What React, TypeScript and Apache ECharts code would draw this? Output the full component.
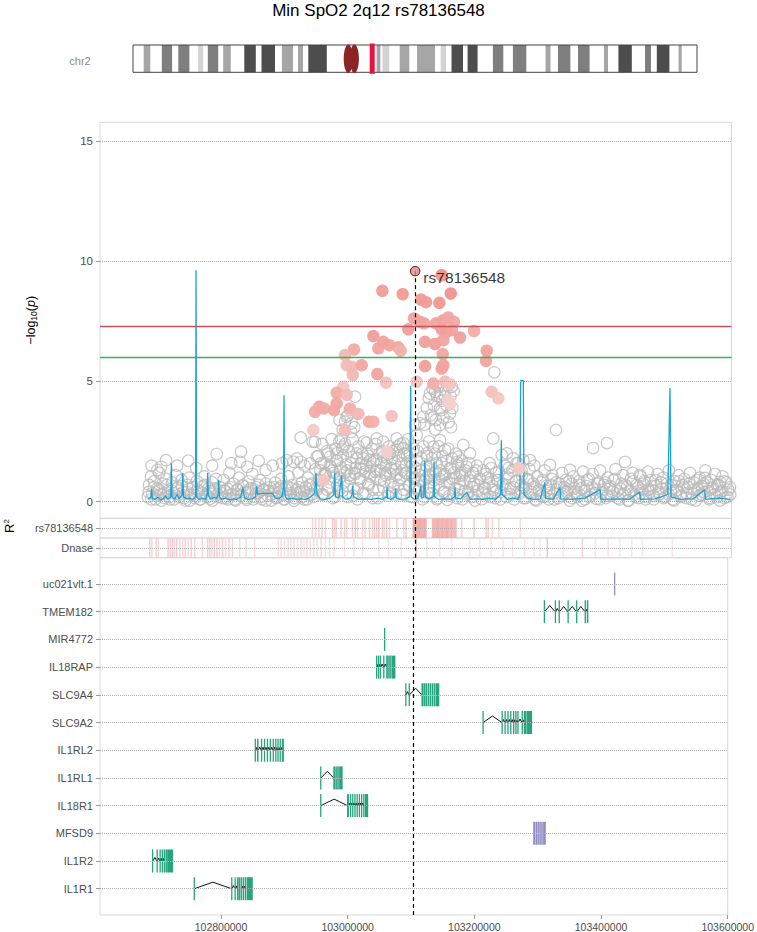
import React, { useEffect, useRef } from "react";
import * as echarts from "echarts";

// ---------------- data ----------------
const TITLE = "Min SpO2 2q12 rs78136548";
const CHROM_LABEL = "chr2";
const LEAD_SNP = "rs78136548";
const LEAD_POS_KB = 103103.5;
const LEAD_LOGP = 9.59;
const X_MIN_KB = 102609;
const X_MAX_KB = 103600;
const X_TICKS_KB = [102800, 103000, 103200, 103400, 103600];
const Y_MIN = -0.69;
const Y_MAX = 15.78;
const Y_TICKS = [0, 5, 10, 15];
const GENOME_WIDE = 7.3;
const SUGGESTIVE = 6;
const TRACK_LD = "rs78136548";
const TRACK_DNASE = "Dnase";
// bottom to top
const GENE_NAMES = ["IL1R1", "IL1R2", "MFSD9", "IL18R1", "IL1RL1", "IL1RL2", "SLC9A2", "SLC9A4", "IL18RAP", "MIR4772", "TMEM182", "uc021vlt.1"];

// chromosome 2 cytobands (Mb) : [start, end, stain]
const CHR_LEN_MB = 243.2;
const CYTOBANDS: [number, number, string][] = [
  [4.61, 7.46, "gpos50"], [12.42, 16.86, "gpos75"], [19.53, 24.32, "gpos75"], [28.11, 30.27, "gpos25"],
  [32.25, 36.74, "gpos75"], [38.9, 42.17, "gpos50"], [47.99, 52.95, "gpos100"], [55.41, 61.23, "gpos100"],
  [64.21, 68.99, "gpos50"], [71.15, 73.31, "gpos50"], [75.59, 83.57, "gpos100"],
  [105.04, 106.68, "gpos50"], [107.54, 110.52, "gpos25"], [115.0, 119.14, "gpos50"], [122.46, 130.22, "gpos50"],
  [132.68, 134.97, "gpos25"], [137.34, 142.3, "gpos100"], [144.28, 148.59, "gpos100"], [155.19, 159.67, "gpos75"],
  [163.82, 169.6, "gpos75"], [177.88, 180.03, "gpos50"], [183.26, 188.6, "gpos75"], [191.89, 196.89, "gpos75"],
  [203.1, 204.83, "gpos50"], [209.31, 215.09, "gpos100"], [220.78, 223.37, "gpos75"], [225.87, 231.3, "gpos100"],
  [235.27, 236.6, "gpos50"],
];
const CENTROMERE_MB: [number, number, number] = [90.98, 94.13, 97.28];
const LOCUS_MB: [number, number] = [102.07, 104.22];

// SNPs with no LD information: [position kb, -log10 p]
const grayBand: [number, number][] = [
  [102684,0.2],[102686,0.7],[102689,1.05],[102691,0.35],[102694,0.85],[102696,0.1],[102699,0.55],[102702,1.2],[102704,0.3],[102707,0.75],
  [102710,0.15],[102713,0.95],[102716,0.45],[102719,0.1],[102722,0.8],[102725,0.35],[102728,1.1],[102731,0.6],[102734,0.2],[102737,0.9],
  [102740,0.4],[102743,0.05],[102746,0.7],[102749,1.0],[102752,0.3],[102755,0.6],[102758,0.15],[102761,0.85],[102764,0.45],[102767,0.1],
  [102770,0.65],[102773,1.05],[102776,0.3],[102779,0.55],[102782,0.12],[102785,0.8],[102788,0.4],[102791,0.95],[102794,0.2],[102797,0.6],
  [102800,0.35],[102803,0.9],[102806,0.15],[102809,0.55],[102812,1.2],[102815,0.3],[102818,0.75],[102821,0.1],[102824,0.5],[102827,1.0],
  [102830,0.25],[102833,0.7],[102836,0.4],[102839,0.08],[102842,0.85],[102845,0.5],[102848,1.15],[102851,0.2],[102854,0.6],[102857,0.35],
  [102860,0.9],[102863,0.1],[102866,0.5],[102869,0.75],[102872,0.25],[102875,0.6],[102878,0.05],[102881,0.45],[102884,0.8],[102887,0.2],
  [102890,0.55],[102893,0.95],[102896,0.3],[102899,0.1],[102902,0.65],[102905,1.05],[102908,0.35],[102911,0.7],[102914,0.15],[102917,0.5],
  [102920,1.2],[102923,0.4],[102926,0.8],[102929,0.1],[102932,0.6],[102935,1.0],[102938,0.3],[102941,0.75],[102944,0.2],[102947,1.35],
  [102950,0.5],[102953,0.9],[102956,1.6],[102959,0.3],[102962,1.2],[102965,2.1],[102968,0.6],[102971,1.45],[102974,0.15],[102977,1.0],
  [102980,1.7],[102983,0.45],[102986,1.3],[102989,2.2],[102992,0.8],[102995,1.55],[102998,0.2],[103001,1.1],[103004,1.85],[103007,0.55],
  [103010,1.4],[103013,0.1],[103016,0.95],[103019,1.6],[103022,0.35],[103025,1.25],[103028,2.0],[103031,0.7],[103034,1.45],[103037,0.15],
  [103040,1.05],[103043,1.75],[103046,0.5],[103049,1.3],[103052,2.1],[103055,0.85],[103058,1.5],[103061,0.25],[103064,1.15],[103067,1.8],
  [103070,0.6],[103073,1.35],[103076,2.3],[103079,0.9],[103082,1.6],[103085,0.3],[103088,1.2],[103091,1.9],[103094,0.7],[103097,1.45],
  [103100,0.2],[103103,1.0],[103106,1.7],[103109,0.45],[103112,1.3],[103115,0.1],[103118,0.9],[103121,1.5],[103124,0.35],[103127,1.1],
  [103130,1.8],[103133,0.6],[103136,1.25],[103139,0.15],[103142,0.95],[103145,1.6],[103148,0.4],[103151,1.15],[103154,0.08],[103157,0.8],
  [103160,1.4],[103163,0.3],[103166,1.0],[103169,1.65],[103172,0.5],[103175,1.2],[103178,0.1],[103181,0.85],[103184,1.45],[103187,0.35],
  [103190,1.05],[103193,0.2],[103196,0.75],[103199,1.3],[103202,0.45],[103205,0.95],[103208,0.1],[103211,0.6],[103214,1.15],[103217,0.3],
  [103220,0.8],[103223,1.4],[103226,0.5],[103229,0.15],[103232,0.9],[103235,1.25],[103238,0.4],[103241,0.7],[103244,1.5],[103247,0.2],
  [103250,1.0],[103253,0.55],[103256,1.3],[103259,0.1],[103262,0.85],[103265,1.6],[103268,0.35],[103271,1.1],[103274,0.6],[103277,0.15],
  [103280,0.95],[103283,1.35],[103286,0.4],[103289,0.75],[103292,0.1],[103295,1.05],[103298,0.5],[103301,0.25],[103304,0.9],[103307,1.3],
  [103310,0.45],[103313,0.1],[103316,0.7],[103319,1.1],[103322,0.35],[103325,0.8],[103328,0.15],[103331,0.6],[103334,1.2],[103337,0.3],
  [103340,0.9],[103343,0.5],[103346,0.05],[103349,0.75],[103352,1.05],[103355,0.4],[103358,0.2],[103361,0.85],[103364,0.55],[103367,1.25],
  [103370,0.1],[103373,0.65],[103376,0.95],[103379,0.3],[103382,1.15],[103385,0.5],[103388,0.12],[103391,0.8],[103394,1.3],[103397,0.4],
  [103400,0.7],[103403,0.15],[103406,1.0],[103409,0.55],[103412,0.25],[103415,0.9],[103418,1.35],[103421,0.45],[103424,0.1],[103427,0.75],
  [103430,1.1],[103433,0.35],[103436,0.6],[103439,0.05],[103442,0.95],[103445,1.2],[103448,0.3],[103451,0.7],[103454,0.15],[103457,1.05],
  [103460,0.5],[103463,0.85],[103466,0.2],[103469,1.25],[103472,0.4],[103475,0.65],[103478,0.1],[103481,0.9],[103484,1.15],[103487,0.3],
  [103490,0.55],[103493,1.0],[103496,0.2],[103499,0.75],[103502,1.3],[103505,0.4],[103508,0.1],[103511,0.85],[103514,0.5],[103517,1.1],
  [103520,0.25],[103523,0.7],[103526,0.95],[103529,0.15],[103532,0.6],[103535,1.2],[103538,0.35],[103541,0.8],[103544,0.05],[103547,0.55],
  [103550,1.0],[103553,0.3],[103556,0.75],[103559,1.3],[103562,0.45],[103565,0.1],[103568,0.9],[103571,0.6],[103574,1.15],[103577,0.2],
  [103580,0.7],[103583,0.4],[103586,1.05],[103589,0.15],[103592,0.8],[103595,0.5],[103598,0.3],
];
const grayLower: [number, number][] = [
  [102685.5,0.4],[102689.5,0.1],[102693.5,0.6],[102697.5,0.25],[102701.5,0.5],[102705.5,0.05],[102709.5,0.35],[102713.5,0.7],[102717.5,0.2],[102721.5,0.45],
  [102725.5,0.1],[102729.5,0.55],[102733.5,0.3],[102737.5,0.65],[102741.5,0.15],[102745.5,0.4],[102749.5,0.05],[102753.5,0.6],[102757.5,0.25],[102761.5,0.5],
  [102765.5,0.1],[102769.5,0.35],[102773.5,0.7],[102777.5,0.2],[102781.5,0.45],[102785.5,0.05],[102789.5,0.55],[102793.5,0.3],[102797.5,0.6],[102801.5,0.15],
  [102805.5,0.45],[102809.5,0.1],[102813.5,0.6],[102817.5,0.3],[102821.5,0.05],[102825.5,0.5],[102829.5,0.25],[102833.5,0.65],[102837.5,0.15],[102841.5,0.4],
  [102845.5,0.55],[102849.5,0.1],[102853.5,0.35],[102857.5,0.7],[102861.5,0.2],[102865.5,0.5],[102869.5,0.05],[102873.5,0.45],[102877.5,0.3],[102881.5,0.6],
  [102885.5,0.15],[102889.5,0.4],[102893.5,0.65],[102897.5,0.1],[102901.5,0.5],[102905.5,0.25],[102909.5,0.55],[102913.5,0.05],[102917.5,0.35],[102921.5,0.6],
  [102925.5,0.2],[102929.5,0.45],[102933.5,0.1],[102937.5,0.7],[102941.5,0.3],[102945.5,0.5],
  [102949.5,0.6],[102953.5,0.9],[102957.5,0.3],[102961.5,1.1],[102965.5,0.5],[102969.5,0.8],[102973.5,1.3],[102977.5,0.2],[102981.5,0.7],[102985.5,1.0],
  [102989.5,0.45],[102993.5,1.2],[102997.5,0.65],[103001.5,0.95],[103005.5,0.25],[103009.5,1.15],[103013.5,0.55],[103017.5,0.85],[103021.5,1.35],[103025.5,0.35],
  [103029.5,0.75],[103033.5,1.05],[103037.5,0.5],[103041.5,1.25],[103045.5,0.15],[103049.5,0.9],[103053.5,0.6],[103057.5,1.1],[103061.5,0.4],[103065.5,0.8],
  [103069.5,1.3],[103073.5,0.3],[103077.5,0.7],[103081.5,1.0],[103085.5,0.5],[103089.5,1.2],[103093.5,0.65],[103097.5,0.2],[103101.5,0.95],[103105.5,0.55],
  [103109.5,0.5],[103113.5,0.85],[103117.5,0.2],[103121.5,1.0],[103125.5,0.6],[103129.5,0.35],[103133.5,0.9],[103137.5,0.1],[103141.5,0.7],[103145.5,1.05],
  [103149.5,0.4],[103153.5,0.8],[103157.5,0.25],[103161.5,0.95],[103165.5,0.55],[103169.5,0.15],[103173.5,0.75],[103177.5,1.1],[103181.5,0.45],[103185.5,0.3],
  [103189.5,0.85],[103193.5,0.6],[103197.5,0.05],[103201.5,0.7],[103205.5,0.95],[103209.5,0.35],[103213.5,0.55],[103217.5,1.0],[103221.5,0.2],[103225.5,0.65],
  [103229.5,0.4],[103233.5,0.9],[103237.5,0.1],[103241.5,0.75],[103245.5,0.5],[103249.5,1.15],[103253.5,0.3],[103257.5,0.6],[103261.5,0.85],
  [103265.5,0.4],[103269.5,0.7],[103273.5,0.15],[103277.5,0.55],[103281.5,0.9],[103285.5,0.3],[103289.5,0.6],[103293.5,0.05],[103297.5,0.45],[103301.5,0.8],
  [103305.5,0.2],[103309.5,0.65],[103313.5,0.35],[103317.5,0.95],[103321.5,0.1],[103325.5,0.5],[103329.5,0.75],[103333.5,0.25],[103337.5,0.6],[103341.5,0.4],
  [103345.5,0.85],[103349.5,0.15],[103353.5,0.55],[103357.5,0.3],[103361.5,0.7],[103365.5,0.05],[103369.5,0.45],[103373.5,0.9],[103377.5,0.2],[103381.5,0.6],
  [103385.5,0.35],[103389.5,0.75],[103393.5,0.1],[103397.5,0.5],[103401.5,0.8],[103405.5,0.25],[103409.5,0.65],[103413.5,0.4],[103417.5,0.95],[103421.5,0.15],
  [103425.5,0.55],[103429.5,0.3],[103433.5,0.7],[103437.5,0.05],[103441.5,0.45],[103445.5,0.85],[103449.5,0.2],[103453.5,0.6],[103457.5,0.35],[103461.5,0.75],
  [103465.5,0.1],[103469.5,0.5],[103473.5,0.9],[103477.5,0.25],[103481.5,0.65],[103485.5,0.4],[103489.5,0.8],[103493.5,0.15],[103497.5,0.55],[103501.5,0.3],
  [103505.5,0.7],[103509.5,0.05],[103513.5,0.45],[103517.5,0.85],[103521.5,0.2],[103525.5,0.6],[103529.5,0.35],[103533.5,0.75],[103537.5,0.1],[103541.5,0.5],
  [103545.5,0.9],[103549.5,0.25],[103553.5,0.65],[103557.5,0.4],[103561.5,0.8],[103565.5,0.15],[103569.5,0.55],[103573.5,0.3],[103577.5,0.7],[103581.5,0.05],
  [103585.5,0.45],[103589.5,0.85],[103593.5,0.2],[103597.5,0.6],
];
const grayMid: [number, number][] = [
  [102690,1.5],[102705,1.45],[102730,1.5],[102760,1.4],[102785,1.5],[102815,1.6],[102840,1.45],[102858,1.7],[102880,1.5],[102895,1.6],[102918,1.8],[102930,1.5],
  [102951.5,1.9],[102954.5,1.3],[102957.5,2.4],[102960.5,1.6],[102963.5,1.1],[102966.5,2.0],[102969.5,1.5],[102972.5,2.6],[102975.5,1.2],[102978.5,2.2],
  [102981.5,1.7],[102984.5,2.5],[102987.5,1.4],[102990.5,1.9],[102993.5,2.4],[102996.5,1.3],[102999.5,2.1],[103002.5,1.6],[103005.5,2.6],[103008.5,1.2],
  [103011.5,1.8],[103014.5,2.3],[103017.5,1.4],[103020.5,2.0],[103023.5,2.5],[103026.5,1.5],[103029.5,1.9],[103032.5,1.2],[103035.5,2.2],[103038.5,1.7],
  [103041.5,2.4],[103044.5,1.3],[103047.5,2.0],[103050.5,1.6],[103053.5,2.5],[103056.5,1.2],[103059.5,1.8],[103062.5,2.3],[103065.5,1.4],[103068.5,2.1],
  [103071.5,1.6],[103074.5,1.1],[103077.5,1.9],[103080.5,2.4],[103083.5,1.3],[103086.5,2.0],[103089.5,1.5],[103092.5,2.6],[103095.5,1.7],[103098.5,1.2],
  [103101.5,2.2],[103104.5,1.4],[103107.5,2.1],[103110.5,1.1],[103113.5,1.8],[103116.5,2.3],[103119.5,1.3],[103122.5,1.9],[103125.5,2.5],[103128.5,1.5],
  [103131.5,1.2],[103134.5,2.0],[103137.5,1.6],[103140.5,2.3],[103143.5,1.3],[103146.5,1.9],[103149.5,1.1],[103152.5,1.7],[103155.5,2.2],[103158.5,1.4],
  [103161.5,1.8],[103164.5,1.2],[103167.5,2.0],[103170.5,1.5],[103173.5,1.1],[103176.5,1.7],[103182.5,1.3],[103188.5,1.6],[103194.5,1.2],[103200.5,1.5],
  [103210.5,1.3],[103220.5,1.6],[103230.5,1.2],[103250.5,1.4],[103262.5,1.6],[103270.5,1.3],[103290.5,1.5],
  [103122,3.9],[103125,4.3],[103128,3.6],[103131,4.7],[103133,4.0],[103136,3.4],[103138,4.4],[103140,4.8],[103143,3.9],[103146,4.2],
  [103148,3.5],[103151,4.6],[103153,4.0],[103156,3.3],[103159,4.4],[103162,3.9],[103164,4.6],[103160,3.1],[103135,3.0],[103118,3.2],
  [102985,3.4],[102990,3.0],[102998,3.6],[103003,2.9],[102987,2.6],[103008,3.1],
];
const grayRaised: [number, number][] = [
  [102699,1.32],[102712.6,1.73],[102747.6,1.7],[102792.1,1.98],[102830.3,2.08],[102828.7,1.66],[102869,1.32],[102924,2.67],[102924,1.66],
  [102942.8,2.49],[102946.4,2.49],[102996.2,3.53],[102993.5,3.33],[103004,3.26],[103009.2,4.37],[103001.3,3.81],[103027.5,2.45],[103043.2,2.63],
  [103074.6,2.63],[103085,2.43],[103103.3,3.19],[103106,2.77],[103116.4,3.53],[103111.2,3.26],[103126.9,4.5],[103134.7,4.57],[103142.6,4.5],
  [103150.4,4.37],[103161,4.78],[103158.3,3.67],[103145.2,3.81],[103142.6,3.19],[103129.6,3.47],[103227.8,5.38],[103226.2,2.63],[103142.6,2.56],
  [103132.1,2.29],[103150.4,2.15],[103121.7,2.01],[103179.1,2.36],[103189.7,2.01],[103171.3,1.87],[103247.3,2.01],[103257.6,1.8],[103273.3,1.73],
  [103239.4,1.94],[102970,1.87],[102980.5,2.01],[102990.8,2.29],[103011.9,2.01],[103022.2,1.8],[103032.7,1.73],[103053.6,1.87],[103064.1,2.01],
  [103074.6,2.15],[103085,2.22],[103095.5,2.01],[102949.1,1.87],[102938.6,1.59],[102902,1.73],[102912.4,1.66],[103324.6,2.98],[103404.6,2.44],
  [103382.7,2.23],[103432.9,1.65],[103456.4,1.11],[103315.2,1.53],[103346.6,1.32],[103558.4,0.99],[103582,0.82],[103283.8,1.73],
];
// SNPs coloured by r2 with the lead SNP: [position kb, -log10 p, r2]
const ldPoints: [number, number, number][] = [
  [103052.1,8.77,0.8],[103084,8.63,0.8],[103112.8,8.41,0.8],[103120.6,8.3,0.8],[103141.5,8.27,0.85],[103159.4,8.66,0.9],[103145.2,9.42,0.9],
  [103101.8,7.62,0.7],[103111.2,7.48,0.7],[103092.9,7.17,0.75],[103117.5,7.42,0.7],[103136.3,7.42,0.7],[103147.8,7.55,0.7],[103155.6,7.66,0.65],
  [103164.5,7.48,0.65],[103145.2,7.17,0.75],[103153.1,7.07,0.75],[103161,7.14,0.7],[103174,6.83,0.75],[103196,7.1,0.6],[103038,6.89,0.75],
  [103053.6,6.65,0.7],[103045.8,6.38,0.7],[103063,6.51,0.7],[103077.1,6.42,0.65],[103080.9,6.28,0.55],[103119,6.65,0.75],[103134.7,6.56,0.75],
  [103147.8,6.72,0.7],[103146.8,6.14,0.65],[103147.8,5.68,0.7],[103145.2,5.54,0.7],[103119,5.64,0.75],[103215.9,6.28,0.7],[103214.8,5.86,0.7],
  [103007.6,6.33,0.6],[102993.5,6.1,0.45],[102996.2,5.68,0.4],[103004,5.61,0.4],[103019.7,5.68,0.65],[103005.6,5.27,0.45],[103044.2,5.31,0.7],
  [103057.8,4.95,0.35],[103106,4.99,0.3],[102990.8,4.78,0.3],[102980.5,4.53,0.6],[102996.2,4.44,0.4],[102953.2,3.95,0.65],[102960.5,3.88,0.6],
  [102946.4,3.74,0.6],[102980.5,4.09,0.65],[102976.2,3.81,0.65],[103001.3,3.88,0.55],[103014.4,3.65,0.45],[103031.2,3.33,0.6],[103038,3.33,0.55],
  [103066.8,3.56,0.35],[102993.5,2.98,0.4],[102943.8,2.98,0.25],[103132.1,4.92,0.55],[103150.4,4.99,0.4],[103158.3,4.89,0.3],[103155.6,4.23,0.2],
  [103158.3,4.06,0.2],[103223.7,4.57,0.35],[103234.1,4.3,0.3],[103058.9,2.08,0.2],[102959.4,0.9,0.3],[103267,1.39,0.25],
];
// signal line: [position kb, value]
const signalLine: [number, number][] = [
  [102684,0.1],[102687,0.15],[102689,0.2],[102690,0.55],[102691,0.15],[102695,0.1],[102700,0.18],[102704,0.08],[102708,0.12],[102712,0.25],
  [102715,0.1],[102720,0.2],[102721,1.6],[102722,0.2],[102726,0.1],[102730,0.3],[102733,0.12],[102738,0.3],[102738.8,1.2],[102740,0.2],
  [102745,0.12],[102750,0.15],[102755,0.1],[102759,0.2],[102759.7,9.63],[102760.5,0.2],[102764,0.1],[102770,0.15],[102775,0.1],[102777,0.3],
  [102778,1.2],[102779,0.25],[102783,0.1],[102788,0.2],[102792,0.12],[102794.5,0.3],[102795.3,0.9],[102796.5,0.2],[102800,0.1],[102806,0.15],
  [102812,0.08],[102818,0.12],[102824,0.1],[102830,0.2],[102833,0.6],[102836,0.15],[102842,0.1],[102848,0.12],[102853,0.2],[102854.9,0.65],
  [102856,0.3],[102860,0.35],[102870,0.35],[102880,0.35],[102884,0.15],[102890,0.12],[102895,0.25],[102897,0.6],[102897.8,4.43],[102898.6,0.5],
  [102900,0.2],[102903,0.1],[102910,0.15],[102918,0.1],[102925,0.12],[102932,0.1],[102940,0.2],[102946,0.35],[102948,1.2],[102949.5,0.3],
  [102955,0.12],[102962,0.1],[102970,0.15],[102976,0.3],[102977.3,1.2],[102978.5,0.2],[102984,0.15],[102988.3,1.1],[102989.5,0.2],[102995,0.1],
  [103002,0.15],[103004.5,0.3],[103005.6,0.65],[103007,0.2],[103015,0.1],[103025,0.12],[103035,0.1],[103045,0.15],[103052,0.1],[103058.5,0.2],
  [103059.4,0.6],[103060.5,0.15],[103066,0.1],[103072,0.2],[103073,0.55],[103074,0.15],[103080,0.1],[103088,0.12],[103095,0.2],[103096.6,4.82],
  [103097.5,0.2],[103102,0.1],[103108,0.15],[103112.3,0.65],[103113.5,0.15],[103117,0.2],[103118.6,1.7],[103119.6,0.2],[103125,0.12],[103132,0.2],
  [103133.2,1.65],[103134.2,0.2],[103140,0.1],[103150,0.12],[103160,0.1],[103165,0.2],[103166.1,0.6],[103167,0.15],[103175,0.12],[103184.5,0.4],
  [103190,0.1],[103200,0.12],[103210,0.1],[103220,0.15],[103230,0.1],[103237.5,0.3],[103238.8,2.56],[103240,0.3],[103248,0.1],[103258,0.15],
  [103265,0.1],[103268,0.3],[103269.1,5.03],[103273.3,5.03],[103274.3,0.3],[103280,0.15],[103290,0.1],[103300,0.12],[103307,0.8],[103308,0.15],
  [103320,0.1],[103331,0.6],[103332,0.12],[103350,0.1],[103370,0.15],[103394,0.5],[103395,0.1],[103420,0.12],[103440,0.1],[103456,0.4],
  [103457,0.1],[103480,0.12],[103500,0.3],[103503.5,4.73],[103505,0.2],[103520,0.1],[103540,0.12],[103558,0.5],[103559,0.1],[103580,0.15],
  [103598,0.1],
];
// LD track ticks: [position kb, r2]
const ldTicks: [number, number][] = [
  [102942.5,0.3],[102947.2,0.35],[102952.6,0.3],[102957.3,0.4],[102962.7,0.3],[102974.1,0.45],[102976.8,0.35],[102979.5,0.4],[102987.5,0.35],
  [102992.9,0.4],[102996.3,0.3],[103005,0.35],[103009.7,0.45],[103013.1,0.3],[103021.2,0.35],[103025.2,0.3],[103031.9,0.4],[103036.6,0.35],
  [103040,0.45],[103043.3,0.4],[103046.7,0.5],[103052.1,0.4],[103054.8,0.35],[103058.8,0.45],[103063.5,0.3],[103074.9,0.35],[103085.7,0.3],
  [103089.1,0.4],[103100.5,0.7],[103102,0.75],[103103.5,0.9],[103105,0.75],[103106.6,0.7],[103108.2,0.8],[103109.8,0.7],[103111.4,0.75],
  [103113,0.7],[103114.6,0.75],[103116.2,0.65],[103117.8,0.7],[103119.4,0.75],[103120.7,0.6],[103130.7,0.6],[103132.5,0.7],[103134.5,0.75],
  [103136.5,0.7],[103138.5,0.8],[103140.5,0.7],[103142.5,0.75],[103144.5,0.7],[103146.5,0.8],[103148.5,0.65],[103150.5,0.75],[103152.5,0.7],
  [103154.5,0.8],[103156.5,0.7],[103158.5,0.65],[103160.5,0.75],[103162.5,0.6],[103164.5,0.7],[103166,0.55],[103167.7,0.6],[103176.5,0.35],
  [103196,0.4],[103214.8,0.45],[103218.1,0.4],[103224.9,0.3],[103235,0.25],[103268.6,0.2],
];
// Dnase track ticks: [position kb, intensity]
const dnaseTicks: [number, number][] = [
  [102687,0.35],[102690.4,0.3],[102697.1,0.35],[102700.5,0.3],[102715.9,0.4],[102719.3,0.35],[102722.7,0.45],[102726,0.3],[102729.4,0.4],
  [102734.1,0.35],[102738.8,0.3],[102742.8,0.4],[102747.5,0.3],[102752.2,0.35],[102757.6,0.3],[102769.7,0.3],[102777.8,0.35],[102781.1,0.4],
  [102784.5,0.3],[102788.5,0.45],[102792.6,0.35],[102796.6,0.3],[102801.3,0.4],[102806,0.3],[102811.4,0.35],[102816.8,0.3],[102828.2,0.25],
  [102838.3,0.25],[102851.7,0.2],[102888.7,0.2],[102893.4,0.25],[102898.8,0.2],[102904.2,0.25],[102908.9,0.2],[102913.6,0.25],[102919,0.2],
  [102924.4,0.25],[102929.1,0.2],[102933.8,0.25],[102939.1,0.2],[102944.5,0.25],[102949.9,0.2],[102955.9,0.25],[102962.7,0.2],[102969.4,0.25],
  [102976.1,0.2],[102992.9,0.15],[103007.7,0.15],[103021.2,0.15],[103046.7,0.15],[103061.5,0.15],[103081.7,0.15],[103105.2,0.5],[103122,0.15],
  [103142.2,0.15],[103161,0.15],[103189.2,0.15],[103204.7,0.15],[103222.8,0.15],[103241.7,0.15],[103256.5,0.15],[103275.3,0.15],[103290.1,0.15],
  [103299.5,0.15],[103311,0.5],[103335.8,0.15],[103366.1,0.35],[103386.2,0.15],[103406.4,0.15],[103424.6,0.15],[103443.4,0.15],[103460.2,0.15],
  [103507.2,0.15],
];
// gene models: exons [start kb, end kb]
const IL1R1_EXONS: [number, number][] = [[102757.3,102758.0],[102816.5,102817.3],[102821.8,102822.5],[102825.8,102826.6],[102828,102829.5],[102831.2,102832.6],[102834.6,102836],[102838,102839.5],[102841.2,102849.7]];
const IL1R2_EXONS: [number, number][] = [[102691.5,102692.6],[102698.7,102699.5],[102703.4,102704.2],[102706.8,102708.2],[102710.2,102711.5],[102713,102714.2],[102715.5,102724]];
const MFSD9_EXONS: [number, number][] = [[103293.4,103295.5],[103297,103298.5],[103300,103301.5],[103303,103304.5],[103306,103307.5],[103309,103312.3]];
const IL18R1_EXONS: [number, number][] = [[102957,102957.8],[102999.4,103001.5],[103004,103005.2],[103007.5,103008.5],[103011,103012],[103014.5,103015.5],[103018,103019],[103021.5,103022.5],[103025,103026.2],[103027.8,103031.9]];
const IL1RL1_EXONS: [number, number][] = [[102957,102957.8],[102977.8,102979.5],[102981,102982.5],[102984,102985.5],[102987,102991.6]];
const IL1RL2_EXONS: [number, number][] = [[102853.6,102854.6],[102857.4,102858.8],[102863.5,102864.4],[102868.2,102869.1],[102872.8,102873.7],[102877.4,102878.3],[102882,102883],[102886,102887],[102889.5,102890.5],[102893,102894],[102896.5,102898.8]];
const SLC9A2_EXONS: [number, number][] = [[103213.2,103214],[103243.3,103244.2],[103248,103249],[103252.5,103253.3],[103257,103257.8],[103261.5,103262.3],[103265,103266.2],[103268.3,103269.3],[103275,103276.2],[103278.5,103282],[103283.5,103290.7]];
const SLC9A4_EXONS: [number, number][] = [[103091.3,103092.2],[103096.7,103097.6],[103117,103119.5],[103121,103122.5],[103124,103125.3],[103127,103128.3],[103130,103131.3],[103133,103134.3],[103136,103137.3],[103139,103144.2]];
const IL18RAP_EXONS: [number, number][] = [[103045.2,103046.3],[103048.2,103049],[103051.2,103052.3],[103056.5,103057.3],[103061.3,103063],[103064.5,103066],[103067.5,103068.8],[103070.3,103074.9]];
const MIR4772_EXONS: [number, number][] = [[103057.8,103058.4]];
const TMEM182_EXONS: [number, number][] = [[103310,103310.8],[103327.4,103328.4],[103333.5,103334.6],[103347.5,103348.1],[103361,103361.8],[103374.5,103375.5],[103378,103379.5]];
const UC021VLT_EXONS: [number, number][] = [[103420.9,103421.5]];
const GENE_EXONS: [number, number][][] = [IL1R1_EXONS, IL1R2_EXONS, MFSD9_EXONS, IL18R1_EXONS, IL1RL1_EXONS, IL1RL2_EXONS, SLC9A2_EXONS, SLC9A4_EXONS, IL18RAP_EXONS, MIR4772_EXONS, TMEM182_EXONS, UC021VLT_EXONS];
const GENE_KIND = ["coding", "coding", "other", "coding", "coding", "coding", "coding", "coding", "coding", "coding", "coding", "other"];

// ---------------- styles ----------------
const FONT = "'Liberation Sans', Arial, Helvetica, sans-serif";
const PANEL_LEFT = 100;
const PANEL_WIDTH = 631.5;
const BORDER = "#d9d9d9";
const LABEL_COLOR = "#4d4d4d";
const DOT_LINE = { color: "#b0b0b0", type: "dotted" as const, width: 1 };
const STAIN: Record<string, string> = { gpos25: "#d3d3d3", gpos50: "#a6a6a6", gpos75: "#7f7f7f", gpos100: "#4d4d4d" };
const GENE_COLOR: Record<string, string> = { coding: "#1b9e77", other: "#8a86c2" };

function mix(a: string, b: string, t: number): string {
  const p = (h: string) => [1, 3, 5].map((i) => parseInt(h.slice(i, i + 2), 16));
  const A = p(a), B = p(b);
  const c = A.map((v, i) => Math.round(v + (B[i] - v) * Math.max(0, Math.min(1, t))));
  return `rgb(${c[0]},${c[1]},${c[2]})`;
}

function buildOption(): any {
  const IDEO_X0 = 133, IDEO_W = 564, IDEO_Y = 45, IDEO_H = 27.3;
  const mbX = (mb: number) => IDEO_X0 + (mb / CHR_LEN_MB) * IDEO_W;
  const ideo: any[] = [
    { type: "rect", shape: { x: IDEO_X0, y: IDEO_Y, width: IDEO_W, height: IDEO_H }, style: { fill: "#ffffff" } },
  ];
  CYTOBANDS.forEach(([s, e, st]) => {
    ideo.push({ type: "rect", shape: { x: mbX(s), y: IDEO_Y, width: mbX(e) - mbX(s), height: IDEO_H }, style: { fill: STAIN[st] } });
  });
  ideo.push({ type: "rect", shape: { x: IDEO_X0, y: IDEO_Y, width: IDEO_W, height: IDEO_H }, style: { fill: "none", stroke: "#444", lineWidth: 1 } });
  const [c0, c1, c2] = CENTROMERE_MB;
  ideo.push({ type: "ellipse", shape: { cx: (mbX(c0) + mbX(c1)) / 2 + 0.6, cy: IDEO_Y + IDEO_H / 2, rx: (mbX(c1) - mbX(c0)) / 2 + 0.9, ry: IDEO_H / 2 + 0.6 }, style: { fill: "#8b2525" } });
  ideo.push({ type: "ellipse", shape: { cx: (mbX(c1) + mbX(c2)) / 2 - 0.6, cy: IDEO_Y + IDEO_H / 2, rx: (mbX(c2) - mbX(c1)) / 2 + 0.9, ry: IDEO_H / 2 + 0.6 }, style: { fill: "#8b2525" } });
  ideo.push({ type: "rect", shape: { x: mbX(LOCUS_MB[0]), y: IDEO_Y - 1.5, width: mbX(LOCUS_MB[1]) - mbX(LOCUS_MB[0]), height: IDEO_H + 3 }, style: { fill: "#e8123f" } });

  const graphic: any[] = [
    { type: "group", silent: true, children: ideo },
    { type: "text", x: 80, y: 60.5, silent: true, style: { text: CHROM_LABEL, fill: "#8c8c8c", fontSize: 11, fontFamily: FONT, align: "center", verticalAlign: "middle" } },
    {
      type: "text", x: 9, y: 526, rotation: Math.PI / 2, silent: true,
      style: { text: "{a|R}{b|2}", align: "center", verticalAlign: "middle", fontFamily: FONT, rich: { a: { fontSize: 13, fill: "#000", fontFamily: FONT }, b: { fontSize: 8, fill: "#000", verticalAlign: "top", fontFamily: FONT } } },
    },
  ];

  const hiddenX = (gridIndex: number) => ({ type: "value", gridIndex, min: X_MIN_KB, max: X_MAX_KB, show: false });

  const trackY = (gridIndex: number, name: string) => ({
    type: "value", gridIndex, min: 0, max: 1,
    axisLine: { show: false }, splitLine: { show: false },
    axisTick: { show: true, length: 4, customValues: [0.5], lineStyle: { color: "#9a9a9a" } },
    axisLabel: { show: true, customValues: [0.5], formatter: () => name, color: LABEL_COLOR, fontSize: 11, fontFamily: FONT, margin: 7 },
  });

  const guide = (idx: number, lines: any[], z: number) => ({
    type: "line", xAxisIndex: idx, yAxisIndex: idx, data: [], z, silent: true, symbol: "none",
    markLine: { silent: true, symbol: ["none", "none"], label: { show: false }, animation: false, data: lines },
  });
  const dashed = { color: "#000", type: [4, 3], width: 1.2 };

  const tickSeries = (idx: number, ticks: [number, number][], lo: string, hi: string, z: number) => ({
    type: "scatter", xAxisIndex: idx, yAxisIndex: idx, symbol: "rect", symbolSize: [1.5, 19.7], z, silent: true,
    data: ticks.map(([p, t]) => ({ value: [p, 0.5], itemStyle: { color: mix(lo, hi, t) } })),
  });

  const geneData = GENE_EXONS.map((ex, i) => [ex[0][0], ex[ex.length - 1][1], i + 1]);

  return {
    animation: false,
    textStyle: { fontFamily: FONT },
    title: { text: TITLE, left: "center", top: 0, padding: [2, 0, 0, 0], textStyle: { fontSize: 17, fontWeight: "normal", color: "#000", fontFamily: FONT } },
    graphic,
    grid: [
      { left: PANEL_LEFT, width: PANEL_WIDTH, top: 122.3, height: 396, show: true, borderColor: BORDER, borderWidth: 1, backgroundColor: "transparent" },
      { left: PANEL_LEFT, width: PANEL_WIDTH, top: 518.3, height: 19.7, show: true, borderColor: BORDER, borderWidth: 1, backgroundColor: "transparent" },
      { left: PANEL_LEFT, width: PANEL_WIDTH, top: 538, height: 19.7, show: true, borderColor: BORDER, borderWidth: 1, backgroundColor: "transparent" },
      { left: PANEL_LEFT, width: PANEL_WIDTH, top: 557.7, height: 357.3, show: true, borderColor: BORDER, borderWidth: 1, backgroundColor: "transparent" },
    ],
    xAxis: [
      hiddenX(0), hiddenX(1), hiddenX(2),
      {
        type: "value", gridIndex: 3, min: X_MIN_KB, max: X_MAX_KB,
        axisLine: { show: false }, splitLine: { show: false },
        axisTick: { show: true, length: 4, customValues: X_TICKS_KB, lineStyle: { color: "#9a9a9a" } },
        axisLabel: { show: true, customValues: X_TICKS_KB, formatter: (v: number) => String(Math.round(v * 1000)), color: LABEL_COLOR, fontSize: 10.5, fontFamily: FONT, margin: 6, showMaxLabel: true },
      },
    ],
    yAxis: [
      {
        type: "value", gridIndex: 0, min: Y_MIN, max: Y_MAX,
        axisLine: { show: false }, splitLine: { show: false },
        axisTick: { show: true, length: 4, customValues: Y_TICKS, lineStyle: { color: "#9a9a9a" } },
        axisLabel: { show: true, customValues: Y_TICKS, color: LABEL_COLOR, fontSize: 11.5, fontFamily: FONT, margin: 7 },
        name: "{a|\u2212log}{b|10}{a|(}{c|p}{a|)}", nameLocation: "middle", nameRotate: 90, nameGap: 62,
        nameTextStyle: { rich: { a: { fontSize: 12.5, color: "#000", fontFamily: FONT }, b: { fontSize: 8.5, color: "#000", verticalAlign: "bottom", fontFamily: FONT, padding: [6, 0, 0, 0] }, c: { fontSize: 12.5, color: "#000", fontStyle: "italic", fontFamily: FONT } } },
      },
      trackY(1, TRACK_LD),
      trackY(2, TRACK_DNASE),
      {
        type: "value", gridIndex: 3, min: 0.05, max: 12.95,
        axisLine: { show: false }, splitLine: { show: false },
        axisTick: { show: true, length: 4, customValues: GENE_NAMES.map((_, i) => i + 1), lineStyle: { color: "#9a9a9a" } },
        axisLabel: { show: true, customValues: GENE_NAMES.map((_, i) => i + 1), formatter: (v: number) => GENE_NAMES[Math.round(v) - 1] || "", color: LABEL_COLOR, fontSize: 11, fontFamily: FONT, margin: 7 },
      },
    ],
    series: [
      guide(0, [
        ...Y_TICKS.map((v) => ({ yAxis: v, lineStyle: DOT_LINE })),
        { yAxis: GENOME_WIDE, lineStyle: { color: "#c9515e", type: "solid", width: 1.3 } },
        { yAxis: SUGGESTIVE, lineStyle: { color: "#3fae5a", type: "solid", width: 1.3 } },
      ], 1),
      {
        type: "scatter", xAxisIndex: 0, yAxisIndex: 0, z: 2, silent: true, symbol: "circle", symbolSize: 11.5,
        itemStyle: { color: "rgba(0,0,0,0)", borderColor: "#bababa", borderWidth: 1.15 },
        data: [...grayLower, ...grayBand, ...grayMid, ...grayRaised],
      },
      {
        type: "line", xAxisIndex: 0, yAxisIndex: 0, z: 3, silent: true, showSymbol: false, symbol: "none",
        lineStyle: { color: "#1ba3d9", width: 1.3 }, data: signalLine,
      },
      {
        type: "scatter", xAxisIndex: 0, yAxisIndex: 0, z: 4, silent: true, symbol: "circle", symbolSize: 12.5,
        data: ldPoints.map(([p, v, r]) => ({ value: [p, v], itemStyle: { color: mix("#f7dedb", "#ee8a84", r), opacity: 0.95 } })),
      },
      {
        type: "scatter", xAxisIndex: 0, yAxisIndex: 0, z: 6, silent: true, symbol: "circle", symbolSize: 9.5,
        itemStyle: { color: "#ef8080", borderColor: "#000", borderWidth: 1 },
        label: { show: true, position: "right", distance: 3, offset: [0, 6], formatter: LEAD_SNP, color: "#000", fontSize: 15.5, fontFamily: FONT },
        data: [[LEAD_POS_KB, LEAD_LOGP]],
        markLine: {
          silent: true, symbol: ["none", "none"], label: { show: false }, lineStyle: dashed,
          data: [[{ coord: [LEAD_POS_KB, LEAD_LOGP] }, { coord: [LEAD_POS_KB, Y_MIN] }]],
        },
      },
      guide(1, [{ yAxis: 0.5, lineStyle: DOT_LINE }], 1),
      guide(2, [{ yAxis: 0.5, lineStyle: DOT_LINE }], 1),
      tickSeries(1, ldTicks, "#fbe6e5", "#ee8781", 2),
      tickSeries(2, dnaseTicks, "#fdf0f1", "#d9798a", 2),
      guide(1, [{ xAxis: LEAD_POS_KB, lineStyle: dashed }], 5),
      guide(2, [{ xAxis: LEAD_POS_KB, lineStyle: dashed }], 5),
      guide(3, GENE_NAMES.map((_, i) => ({ yAxis: i + 1, lineStyle: DOT_LINE })), 1),
      {
        type: "custom", xAxisIndex: 3, yAxisIndex: 3, z: 3, silent: true,
        data: geneData,
        encode: { x: [0, 1], y: 2 },
        renderItem: (params: any, api: any) => {
          const i = params.dataIndex;
          const ex = GENE_EXONS[i];
          const row = i + 1;
          const color = GENE_COLOR[GENE_KIND[i]];
          const yC = api.coord([ex[0][0], row])[1];
          const h = 23;
          const children: any[] = [];
          for (let k = 0; k < ex.length - 1; k++) {
            const a = api.coord([ex[k][1], row])[0];
            const b = api.coord([ex[k + 1][0], row])[0];
            if (b - a > 1.2) {
              const peak = Math.min(6.5, 2 + (b - a) * 0.4);
              children.push({ type: "polyline", shape: { points: [[a, yC], [(a + b) / 2, yC - peak], [b, yC]] }, style: { stroke: "#111", lineWidth: 1, fill: null } });
            }
          }
          for (const [s, e] of ex) {
            const x1 = api.coord([s, row])[0];
            const x2 = api.coord([e, row])[0];
            children.push({ type: "rect", shape: { x: x1 - 0.3, y: yC - h / 2, width: Math.max(1.3, x2 - x1 + 0.6), height: h }, style: { fill: color, opacity: 0.95 } });
          }
          return { type: "group", children };
        },
      },
      guide(3, [{ xAxis: LEAD_POS_KB, lineStyle: dashed }], 5),
    ],
  };
}

export default function App() {
  const ref = useRef<HTMLDivElement>(null);
  useEffect(() => {
    if (!ref.current) return;
    const chart = echarts.init(ref.current, undefined, { renderer: "svg" });
    chart.setOption(buildOption());
    return () => chart.dispose();
  }, []);
  return <div ref={ref} style={{ position: "fixed", left: 0, top: 0, width: 757, height: 932, background: "#fff" }} />;
}
